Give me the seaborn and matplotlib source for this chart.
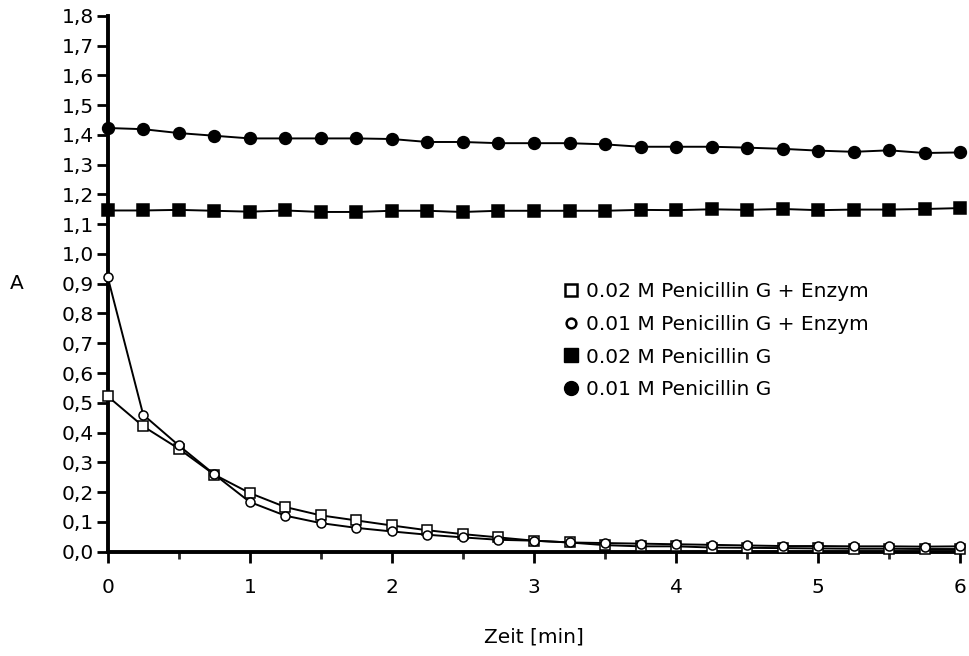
import matplotlib
matplotlib.use("Agg")
import numpy as np
import pandas as pd
import matplotlib.pyplot as plt
import seaborn as sns
from matplotlib.lines import Line2D
from matplotlib.ticker import MultipleLocator, FixedLocator

# ---------------------------------------------------------
# data (time in minutes, absorbance)
# ---------------------------------------------------------
zeit = [0, 0.25, 0.5, 0.75, 1, 1.25, 1.5, 1.75, 2, 2.25, 2.5, 2.75, 3,
        3.25, 3.5, 3.75, 4, 4.25, 4.5, 4.75, 5, 5.25, 5.5, 5.75, 6]

pen02_enzym = [0.522, 0.421, 0.346, 0.259, 0.197, 0.150, 0.122, 0.105, 0.088,
               0.072, 0.059, 0.048, 0.037, 0.031, 0.022, 0.018, 0.018, 0.014,
               0.013, 0.012, 0.011, 0.010, 0.010, 0.009, 0.009]
pen01_enzym = [0.923, 0.460, 0.357, 0.260, 0.167, 0.121, 0.096, 0.080, 0.068,
               0.057, 0.048, 0.040, 0.037, 0.031, 0.029, 0.027, 0.025, 0.023,
               0.021, 0.019, 0.019, 0.018, 0.018, 0.017, 0.018]
pen02 = [1.146, 1.146, 1.148, 1.145, 1.142, 1.146, 1.141, 1.141, 1.145, 1.145,
         1.141, 1.145, 1.145, 1.145, 1.145, 1.148, 1.147, 1.150, 1.148, 1.151,
         1.147, 1.149, 1.149, 1.151, 1.154]
pen01 = [1.423, 1.419, 1.406, 1.397, 1.388, 1.388, 1.388, 1.388, 1.386, 1.376,
         1.376, 1.372, 1.372, 1.372, 1.368, 1.360, 1.360, 1.360, 1.357, 1.353,
         1.347, 1.343, 1.348, 1.339, 1.341]

labels = ["0.02 M Penicillin G + Enzym", "0.01 M Penicillin G + Enzym",
          "0.02 M Penicillin G", "0.01 M Penicillin G"]
y_ticklabels = ["0,0", "0,1", "0,2", "0,3", "0,4", "0,5", "0,6", "0,7", "0,8",
                "0,9", "1,0", "1,1", "1,2", "1,3", "1,4", "1,5", "1,6", "1,7", "1,8"]

# ---------------------------------------------------------
# plot
# ---------------------------------------------------------
sns.set_style("ticks")
plt.rcParams["font.family"] = ["DejaVu Sans"]
plt.rcParams["text.color"] = "black"
plt.rcParams["axes.labelcolor"] = "black"
FS = 14.5

fig = plt.figure(figsize=(9.7, 6.56), dpi=100)
ax = fig.add_axes([0.111, 0.159, 0.879, 0.817])

series = [
    (pen02_enzym, "s", "white", 6.5),
    (pen01_enzym, "o", "white", 6.5),
    (pen02, "s", "black", 8),
    (pen01, "o", "black", 8.5),
]
for (vals, mk, fc, ms), lab in zip(series, labels):
    sns.lineplot(x=zeit, y=vals, ax=ax, color="black", linewidth=1.4,
                 marker=mk, markersize=ms, markerfacecolor=fc,
                 markeredgecolor="black", markeredgewidth=1.1,
                 clip_on=False, zorder=3)

ax.set_xlim(0, 6)
ax.set_ylim(0, 1.8)
ax.xaxis.set_major_locator(MultipleLocator(1))
ax.xaxis.set_minor_locator(FixedLocator([0.5, 1.5, 2.5, 3.5, 4.5, 5.5]))
ax.set_yticks(np.arange(0, 1.81, 0.1))
ax.set_yticklabels(y_ticklabels)

sns.despine(ax=ax)
for side in ["left", "bottom"]:
    ax.spines[side].set_linewidth(2.8)
    ax.spines[side].set_color("black")

ax.tick_params(axis="both", which="major", length=8, width=2, labelsize=FS,
               colors="black", pad=2)
ax.tick_params(axis="x", which="minor", length=5, width=2)
ax.tick_params(axis="x", which="major", pad=11)

ax.set_xlabel("Zeit [min]", fontsize=FS, labelpad=22)
ax.set_ylabel("A", fontsize=FS, rotation=0, va="center", ha="left")
ax.yaxis.set_label_coords(-0.115, 0.5)

handles = [
    Line2D([], [], linestyle="none", marker="s", markersize=9,
           markerfacecolor="white", markeredgecolor="black", markeredgewidth=1.8),
    Line2D([], [], linestyle="none", marker="o", markersize=7,
           markerfacecolor="white", markeredgecolor="black", markeredgewidth=1.8),
    Line2D([], [], linestyle="none", marker="s", markersize=10,
           markerfacecolor="black", markeredgecolor="black"),
    Line2D([], [], linestyle="none", marker="o", markersize=10,
           markerfacecolor="black", markeredgecolor="black"),
]
ax.legend(handles, labels, loc="upper left", bbox_to_anchor=(0.525, 0.518),
          frameon=False, fontsize=FS, handlelength=0.8, handletextpad=0.3,
          labelspacing=0.68, borderaxespad=0)

fig.savefig("out.png", dpi=100)
